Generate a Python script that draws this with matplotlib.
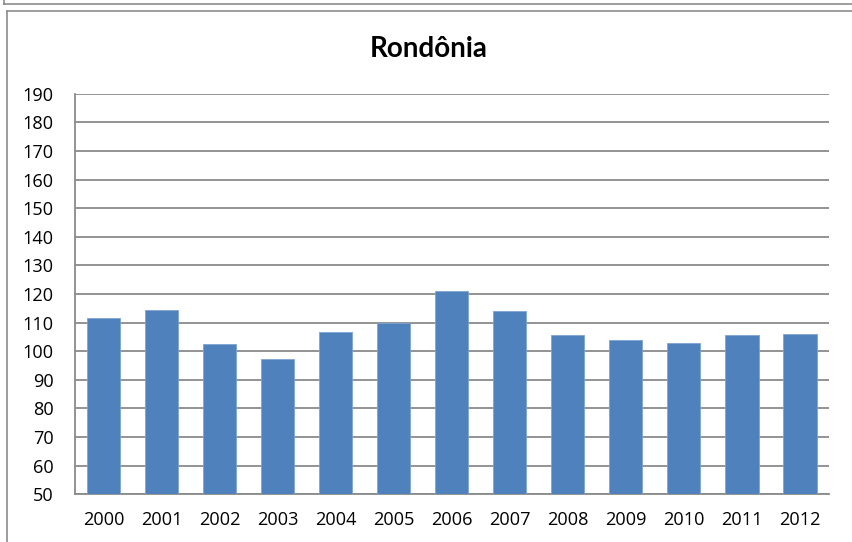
import matplotlib
matplotlib.use("Agg")
import matplotlib.pyplot as plt
from matplotlib.lines import Line2D

years = ["2000", "2001", "2002", "2003", "2004", "2005", "2006",
         "2007", "2008", "2009", "2010", "2011", "2012"]
values = [111.5, 114.3, 102.4, 97.3, 106.6, 109.8, 121.1,
          114.1, 105.8, 103.8, 102.8, 105.7, 106.0]
yticks = list(range(50, 191, 10))
title = "Rondônia"

plt.rcParams['font.family'] = ['Open Sans', 'DejaVu Sans']

W, H = 852, 542
fig = plt.figure(figsize=(W / 100, H / 100), dpi=100)
fig.patch.set_facecolor('white')

# outer frames (bottom of previous chart, and this chart's frame)
def px_line(x0, y0, x1, y1, color='#8c8c8c', lw=1.2):
    fig.add_artist(Line2D([x0 / W, x1 / W], [1 - y0 / H, 1 - y1 / H],
                          transform=fig.transFigure, color=color, lw=lw))

px_line(4, 0, 4, 4)
px_line(4, 4, W, 4)
px_line(7, 11, W, 11)
px_line(7, 11, 7, H)

ax = fig.add_axes([74.7 / W, (H - 494.3) / H, (829 - 74.7) / W, (494.3 - 93.7) / H])
x = list(range(len(years)))
ax.bar(x, values, width=0.57, color='#4F81BD', edgecolor='#7ea3d3',
       linewidth=0.6, zorder=3)
ax.set_xlim(-0.5, len(years) - 0.5)
ax.set_ylim(50, 190)
ax.set_yticks(yticks)
ax.set_xticks(x)
ax.set_xticklabels(years)
ax.yaxis.grid(True, color='#8a8a8a', linewidth=1.3, zorder=0)
ax.set_axisbelow(True)
for s in ['top', 'right']:
    ax.spines[s].set_visible(False)
for s in ['left', 'bottom']:
    ax.spines[s].set_color('#8a8a8a')
    ax.spines[s].set_linewidth(1.3)
ax.tick_params(axis='both', length=0, labelsize=13.1, colors='black')
ax.tick_params(axis='y', pad=15)
ax.tick_params(axis='x', pad=12)

fig.text(429 / W, 1 - 49 / H, title, ha='center', va='center',
         fontsize=20, fontweight='bold', family=['Lato', 'DejaVu Sans'])

fig.savefig('out.png', dpi=100, facecolor='white')
